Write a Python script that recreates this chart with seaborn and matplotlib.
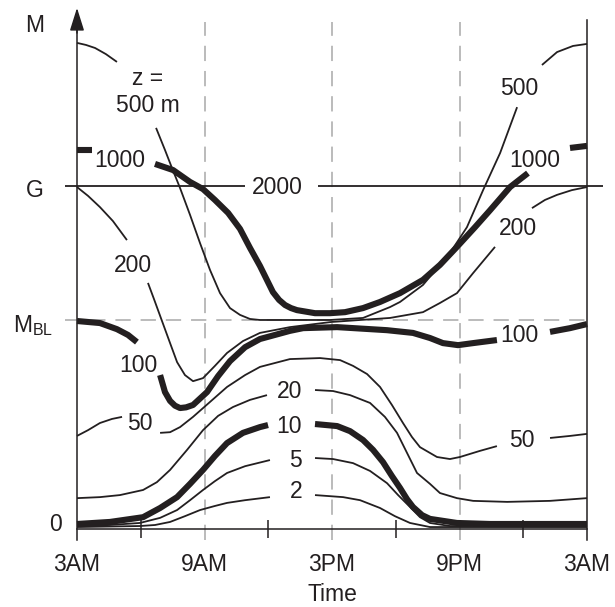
import matplotlib
matplotlib.use('Agg')
import matplotlib.pyplot as plt
import pandas as pd
import seaborn as sns

# time = hours after 3AM, speed in % of geostrophic wind G
# each curve is split into pieces where its label sits
z500_hours = [[0, 0.42, 0.85, 1.36, 1.88],
              [3.72, 4.14, 4.47, 4.85, 5.32, 5.79, 6.26, 6.73, 7.20, 7.67, 8.14, 8.61,
               10.49, 11.91, 13.46, 14.73, 15.20, 16.28, 17.55, 18.35, 19.11, 19.91, 20.71],
              [21.88, 22.59, 23.34, 24.0]]
z500_speed = [[142.1, 141.5, 140.6, 138.8, 136.5],
              [117.1, 110.6, 105.3, 99.4, 91.5, 83.2, 75.3, 68.5, 64.1, 62.1, 60.9, 60.6,
               60.6, 60.6, 61.2, 64.4, 65.9, 70.9, 80.3, 87.9, 98.8, 109.7, 123.2],
              [135.6, 139.4, 141.2, 141.8]]

z1000_hours = [[0, 0.71],
               [3.67, 4.52, 5.32, 5.93, 6.49, 7.11, 7.67, 8.14, 8.61, 9.22, 9.51, 9.79, 10.07,
                10.35, 11.20, 11.91, 12.61, 13.46, 14.26, 15.20, 16.28, 17.08, 17.88, 18.73,
                19.44, 20.38, 21.22],
               [23.20, 24.0]]
z1000_speed = [[110.6, 110.6],
               [106.5, 104.7, 101.2, 99.1, 95.9, 92.1, 87.4, 81.8, 76.5, 68.8, 66.5, 65.0, 64.1,
                63.5, 62.6, 62.6, 62.9, 64.1, 65.9, 68.5, 72.4, 76.8, 82.1, 87.9,
                92.9, 99.7, 103.8],
               [111.2, 111.8]]

z2000_hours = [[-0.56, 7.91], [11.34, 24.75]]
z2000_speed = [[100, 100], [100, 100]]

z200_hours = [[0, 0.52, 1.08, 1.69, 2.35],
              [3.34, 3.62, 4.00, 4.38, 4.71, 5.08, 5.46, 5.93, 6.49, 7.06, 7.81, 8.61, 10.02,
               11.95, 13.32, 14.73, 16.28, 17.08, 17.88, 18.64, 19.67],
              [21.41, 22.02, 22.59, 23.29, 24.0]]
z200_speed = [[99.7, 97.1, 93.8, 89.7, 84.1],
              [71.5, 66.8, 60.3, 53.8, 48.2, 44.4, 42.6, 43.5, 47.1, 50.9, 54.4, 56.8, 58.5,
               60.0, 60.6, 61.2, 62.9, 65.6, 68.5, 74.4, 82.1],
              [93.5, 95.9, 97.4, 98.8, 99.7]]

z100_hours = [[0, 1.08, 1.88, 2.40, 2.82],
              [3.91, 4.14, 4.38, 4.61, 4.85, 5.13, 5.46, 6.12, 6.64, 7.20, 7.91, 8.61, 10.02,
               10.64, 12.24, 14.59, 15.81, 16.61, 17.22, 17.93, 18.64, 19.76],
              [22.26, 23.20, 24.0]]
z100_speed = [[60.3, 59.7, 57.9, 56.2, 54.1],
              [44.4, 39.4, 36.8, 35.4, 34.7, 34.9, 35.6, 39.4, 44.1, 48.5, 52.6, 55.0, 57.4,
               58.2, 58.5, 57.6, 56.8, 55.3, 53.8, 53.2, 53.8, 54.7],
              [57.1, 58.2, 59.4]]

z50_hours = [[0, 0.52, 1.08, 1.65, 2.12],
             [3.91, 4.38, 4.85, 5.46, 6.26, 7.06, 7.91, 8.61, 10.02, 11.44, 12.38, 12.99, 13.65,
              14.26, 14.82, 15.34, 15.76, 16.14, 16.94, 17.55, 18.02, 18.96, 19.76],
             [22.26, 23.20, 24.0]]
z50_speed = [[26.5, 28.2, 30.3, 31.5, 32.1],
             [27.4, 27.6, 29.1, 32.1, 36.5, 40.9, 44.4, 46.8, 49.1, 49.4, 48.8, 47.1, 44.7,
              40.9, 35.6, 30.3, 26.2, 23.2, 20.3, 19.7, 20.3, 22.1, 23.5],
             [25.9, 26.5, 27.1]]

z20_hours = [[0, 1.08, 2.02, 3.11, 3.76, 4.38, 5.18, 5.93, 6.64, 7.34, 8.14, 8.94],
             [11.20, 12.05, 12.85, 13.79, 14.49, 15.06, 15.53, 16.00, 16.61, 17.08, 17.88,
              18.64, 20.24, 22.26, 24.0]]
z20_speed = [[8.2, 8.5, 9.1, 10.6, 12.9, 16.5, 22.4, 28.2, 32.4, 35.0, 37.1, 38.5],
             [40.0, 39.7, 38.5, 36.2, 32.1, 27.4, 21.5, 15.6, 12.4, 9.7, 8.2, 7.4, 7.1, 7.4, 8.2]]

z10_hours = [[0, 1.55, 3.11, 3.91, 4.71, 5.32, 5.93, 6.49, 7.06, 7.81, 8.61, 8.99],
             [11.20, 12.24, 12.85, 13.46, 13.93, 14.40, 14.82, 15.20, 15.53, 15.81, 16.24,
              16.61, 17.88, 19.44, 24.0]]
z10_speed = [[0.6, 1.2, 2.6, 5.3, 8.5, 12.4, 16.5, 20.6, 24.4, 27.4, 29.1, 29.7],
             [30.0, 29.4, 27.9, 25.3, 22.4, 18.8, 14.7, 11.2, 7.9, 5.6, 3.2, 2.1, 0.9, 0.6, 0.6]]

z5_hours = [[0, 1.55, 2.96, 3.91, 4.71, 5.32, 5.93, 6.49, 7.06, 7.91, 9.08],
            [11.20, 12.05, 12.99, 13.79, 14.59, 15.11, 15.67, 16.14, 16.61, 17.55, 24.0]]
z5_speed = [[0.0, 0.3, 0.9, 2.4, 4.7, 7.6, 10.6, 13.2, 15.6, 17.6, 19.4],
            [20.0, 19.7, 18.5, 16.2, 12.6, 9.1, 5.6, 2.6, 0.9, 0.0, 0.0]]

z2_hours = [[0, 2.96, 3.67, 4.38, 5.08, 5.79, 6.49, 7.06, 7.91, 9.08],
            [11.20, 12.52, 13.32, 14.26, 14.96, 15.67, 16.61, 18.02, 24.0]]
z2_speed = [[-0.3, 0.0, 0.3, 1.2, 2.9, 4.7, 5.9, 6.8, 7.6, 8.5],
            [9.1, 8.5, 7.6, 5.3, 2.9, 0.9, -0.3, -0.3, -0.3]]

tick_pos = [0, 6, 12, 18, 24]
tick_labels = ['3AM', '9AM', '3PM', '9PM', '3AM']
minor_pos = [3, 9, 15, 21]
m_bl = 60.6

ink = '#231f20'
grey = '#a8a8a8'

curves = [
    ('500', z500_hours, z500_speed, False),
    ('1000', z1000_hours, z1000_speed, True),
    ('2000', z2000_hours, z2000_speed, False),
    ('200', z200_hours, z200_speed, False),
    ('100', z100_hours, z100_speed, True),
    ('50', z50_hours, z50_speed, False),
    ('20', z20_hours, z20_speed, False),
    ('10', z10_hours, z10_speed, True),
    ('5', z5_hours, z5_speed, False),
    ('2', z2_hours, z2_speed, False),
]

rows = []
for name, hours, speeds, thick in curves:
    for i, (hs, vs) in enumerate(zip(hours, speeds)):
        for h, v in zip(hs, vs):
            rows.append({'hour': h, 'speed': v, 'seg': f'{name}_{i}', 'thick': thick})
df = pd.DataFrame(rows)

sns.set_style('white')
plt.rcParams['font.family'] = ['Liberation Sans', 'DejaVu Sans']
fs = 16.5

fig = plt.figure(figsize=(6.15, 6.07), dpi=100)
ax = fig.add_axes([0.1252, 0.1110, 0.8293, 0.8738])

# dashed reference lines
ax.vlines([6, 12, 18], -4, 148.2, colors=grey, linestyles=(0, (10, 6.5)), linewidth=1.1, zorder=1)
ax.hlines(m_bl, -0.56, 24.14, colors=grey, linestyles=(0, (10, 6.5)), linewidth=1.1,
          zorder=1, clip_on=False)

sns.lineplot(data=df[~df.thick], x='hour', y='speed', units='seg', estimator=None,
             color=ink, linewidth=1.3, ax=ax, clip_on=False, solid_capstyle='butt')
sns.lineplot(data=df[df.thick], x='hour', y='speed', units='seg', estimator=None,
             color=ink, linewidth=4.4, ax=ax, clip_on=False, solid_capstyle='butt')

ax.set_xlim(0, 24)
ax.set_ylim(-4, 152)

ax.spines['top'].set_visible(False)
for s in ['left', 'right', 'bottom']:
    ax.spines[s].set_color(ink)
    ax.spines[s].set_linewidth(1.1)
ax.spines['bottom'].set_position(('data', -0.88))
ax.spines['left'].set_bounds(-4, 146)
ax.spines['right'].set_bounds(-4, 148.8)
ax.annotate('', xy=(0, 152.4), xytext=(0, 145), annotation_clip=False,
            arrowprops=dict(arrowstyle='-|>,head_length=0.7,head_width=0.22',
                            mutation_scale=20, color=ink, lw=1.1, shrinkA=0, shrinkB=0))

ax.set_xticks(tick_pos)
ax.set_xticklabels(tick_labels)
ax.set_xticks(minor_pos, minor=True)
ax.tick_params(axis='x', which='major', length=0, pad=17, labelsize=fs, labelcolor=ink)
ax.tick_params(axis='x', which='minor', bottom=True, direction='inout', length=13,
               width=1.1, color=ink)
ax.set_yticks([])
ax.set_xlabel('Time', fontsize=fs, color=ink, labelpad=5)
ax.set_ylabel('')

# y axis labels
ax.text(-1.98, 145.3, 'M', fontsize=fs, color=ink, ha='center', va='baseline', clip_on=False)
ax.text(-1.98, 96.9, 'G', fontsize=fs, color=ink, ha='center', va='baseline', clip_on=False)
ax.text(-3.01, 57.1, r'M$_\mathregular{BL}$', fontsize=fs, color=ink, ha='left',
        va='baseline', clip_on=False)
ax.text(-1.01, -1.6, '0', fontsize=fs, color=ink, ha='center', va='baseline', clip_on=False)

# curve labels
labels = [
    (3.34, 129.7, 'z =', 'center'), (3.34, 121.8, '500 m', 'center'),
    (2.02, 105.6, '1000', 'center'), (9.44, 97.6, '2000', 'center'),
    (2.64, 74.7, '200', 'center'), (2.87, 45.3, '100', 'center'),
    (2.96, 28.2, '50', 'center'),
    (10.59, 37.6, '20', 'right'), (10.59, 27.4, '10', 'right'),
    (10.59, 17.4, '5', 'right'), (10.59, 8.2, '2', 'right'),
    (20.8, 126.8, '500', 'center'), (21.55, 105.6, '1000', 'center'),
    (20.75, 85.6, '200', 'center'), (20.8, 54.1, '100', 'center'),
    (20.94, 23.2, '50', 'center'),
]
for x, y, t, ha in labels:
    ax.text(x, y, t, fontsize=fs, color=ink, ha=ha, va='baseline')

fig.savefig('out.png', dpi=100)
